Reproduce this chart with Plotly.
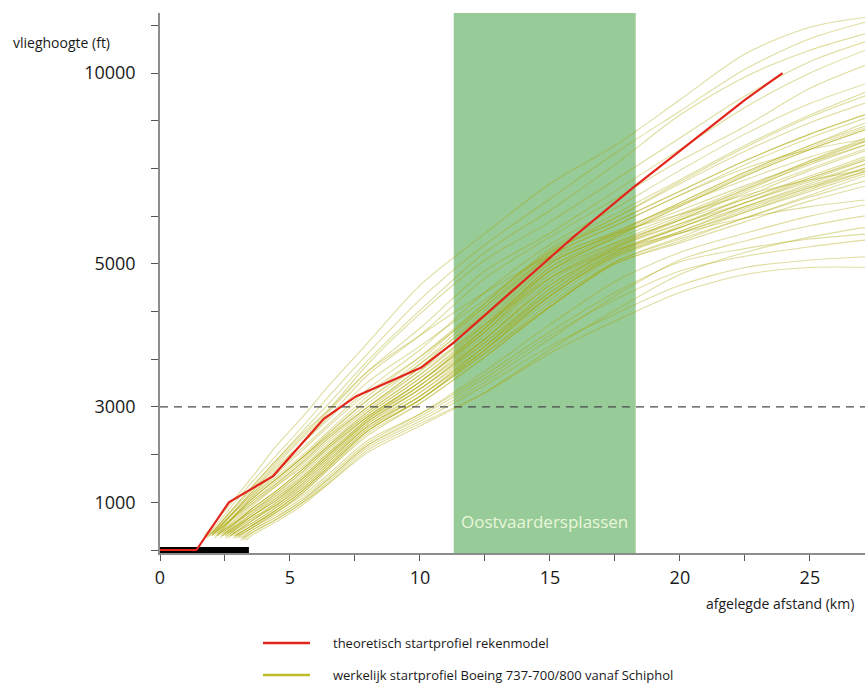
import numpy as np
import plotly.graph_objects as go

# ---------------- data ----------------
# theoretical take-off profile (red)
RED_KM = [0, 1.4, 2.65, 4.35, 6.3, 7.55, 10.05, 11.3, 15.9, 18.2, 22.5, 23.95]
RED_FT = [0, 0, 1000, 1550, 2750, 3150, 3550, 3900, 5700, 7000, 9300, 10000]

# runway (black bar on the x axis)
RUNWAY_KM = [0, 3.42]
RUNWAY_FT = [0, 0]

# area of the Oostvaardersplassen
BAND_KM = [11.3, 18.3]
BAND_LABEL = "Oostvaardersplassen"

# reference altitude
REF_FT = 3000

# measured Boeing 737-700/800 profiles (olive): start point + heights on a common km grid
GRID_KM = [3.5, 4.5, 5.5, 6.5, 8, 10, 12.5, 15, 17.5, 20, 22.5, 25, 27.5]
START_KM = [1.7, 1.8, 1.9, 1.8, 2.0, 2.0,
            2.1, 2.2, 2.2, 2.3, 2.3, 2.4, 2.4, 2.5, 2.5, 2.6,
            2.6, 2.7, 2.7, 2.8, 2.8, 2.9, 2.9, 3.0, 2.4, 2.2,
            2.5, 2.6, 2.3, 2.7, 2.0, 2.1, 2.8, 2.5, 2.9, 2.4,
            3.1, 3.2, 3.3, 3.0, 3.2, 3.1, 2.9,
            1.9, 2.0, 2.1, 2.2,
            2.0, 2.1, 2.2]
START_FT = [300, 280, 300, 250, 300, 350,
            350, 300, 400, 300, 350, 300, 400, 300, 350, 300,
            250, 300, 350, 300, 250, 300, 250, 300, 350, 350,
            300, 350, 250, 300, 350, 300, 350, 250, 300, 300,
            250, 200, 200, 250, 250, 200, 300,
            300, 300, 250, 300,
            300, 350, 300]
PROFILE_FT = [
    [1500, 2200, 2800, 3300, 3900, 4700, 5800, 7100, 8100, 9300, 10500, 11200, 11500],
    [1400, 2000, 2600, 3150, 3750, 4500, 5500, 6700, 7900, 9000, 10100, 10900, 11400],
    [1300, 1900, 2500, 3050, 3650, 4350, 5300, 6400, 7600, 8900, 9900, 10600, 11100],
    [1250, 1850, 2400, 2950, 3600, 4300, 5100, 6100, 7200, 8300, 9400, 10300, 10900],
    [1200, 1800, 2350, 2900, 3500, 4100, 4900, 5800, 6900, 8000, 9100, 10000, 10700],
    [1150, 1700, 2250, 2800, 3450, 4000, 4800, 5700, 6700, 7700, 8600, 9600, 10300],
    [1000, 1450, 1900, 2400, 3050, 3600, 4400, 5300, 6100, 6900, 7700, 8400, 9000],
    [900, 1350, 1800, 2300, 2950, 3500, 4300, 5200, 6000, 6800, 7600, 8300, 8900],
    [950, 1350, 1750, 2250, 2900, 3450, 4200, 5000, 5800, 6600, 7400, 8100, 8700],
    [850, 1250, 1700, 2200, 2850, 3400, 4100, 4900, 5700, 6500, 7300, 8000, 8600],
    [800, 1200, 1650, 2150, 2800, 3350, 4100, 4950, 5650, 6300, 7000, 7700, 8300],
    [750, 1150, 1600, 2100, 2800, 3350, 4050, 4850, 5550, 6250, 6950, 7600, 8200],
    [800, 1150, 1550, 2050, 2750, 3300, 4000, 4800, 5500, 6150, 6850, 7500, 8100],
    [700, 1100, 1550, 2050, 2750, 3300, 3950, 4700, 5400, 6050, 6700, 7300, 7900],
    [700, 1050, 1500, 2000, 2700, 3250, 3950, 4750, 5450, 6200, 6950, 7700, 8400],
    [650, 1000, 1450, 1950, 2650, 3250, 3900, 4650, 5300, 5950, 6600, 7200, 7800],
    [600, 1000, 1400, 1900, 2650, 3200, 3900, 4600, 5300, 6000, 6750, 7450, 8050],
    [600, 950, 1400, 1900, 2600, 3200, 3850, 4600, 5250, 5850, 6450, 7000, 7500],
    [650, 950, 1350, 1850, 2600, 3150, 3850, 4550, 5200, 5850, 6500, 7100, 7700],
    [550, 900, 1300, 1800, 2550, 3150, 3800, 4500, 5150, 5800, 6400, 7000, 7600],
    [500, 850, 1250, 1750, 2500, 3100, 3800, 4550, 5250, 5950, 6600, 7250, 7850],
    [500, 850, 1250, 1750, 2500, 3100, 3750, 4450, 5050, 5650, 6200, 6750, 7250],
    [450, 800, 1200, 1700, 2450, 3050, 3700, 4400, 5050, 5700, 6350, 6950, 7500],
    [450, 800, 1200, 1700, 2400, 3050, 3700, 4400, 5000, 5550, 6100, 6650, 7100],
    [850, 1250, 1700, 2200, 2850, 3400, 4150, 5000, 5800, 6600, 7400, 8100, 8800],
    [1000, 1400, 1850, 2350, 3000, 3550, 4250, 5050, 5750, 6400, 7050, 7650, 8200],
    [750, 1100, 1500, 2000, 2700, 3250, 3950, 4700, 5350, 5950, 6500, 7050, 7600],
    [700, 1050, 1450, 1950, 2700, 3300, 4050, 4900, 5700, 6500, 7300, 8000, 8600],
    [850, 1250, 1700, 2200, 2900, 3450, 4150, 4900, 5550, 6150, 6700, 7250, 7800],
    [600, 950, 1350, 1850, 2600, 3150, 3850, 4650, 5400, 6150, 6900, 7650, 8300],
    [1100, 1550, 2000, 2500, 3150, 3700, 4450, 5350, 6200, 7100, 7950, 8700, 9300],
    [1050, 1500, 1950, 2450, 3100, 3600, 4300, 5100, 5850, 6550, 7200, 7800, 8300],
    [550, 900, 1300, 1800, 2550, 3100, 3750, 4400, 5000, 5600, 6200, 6800, 7400],
    [700, 1050, 1500, 2000, 2750, 3350, 4100, 4950, 5750, 6550, 7350, 8050, 8650],
    [500, 850, 1250, 1750, 2500, 3100, 3800, 4550, 5200, 5800, 6350, 6900, 7450],
    [800, 1200, 1650, 2150, 2800, 3350, 4050, 4800, 5450, 6050, 6600, 7150, 7700],
    [400, 700, 1050, 1500, 2200, 2800, 3400, 4000, 4500, 4900, 5200, 5450, 5650],
    [350, 650, 1000, 1450, 2150, 2700, 3300, 3850, 4300, 4700, 4950, 5100, 5200],
    [300, 600, 950, 1400, 2100, 2650, 3200, 3750, 4200, 4600, 4850, 4950, 4950],
    [450, 750, 1100, 1550, 2250, 2850, 3500, 4150, 4750, 5300, 5800, 6250, 6600],
    [350, 650, 1000, 1400, 2050, 2600, 3200, 3800, 4350, 4850, 5300, 5700, 6000],
    [400, 700, 1050, 1500, 2200, 2750, 3350, 3950, 4550, 5100, 5600, 6000, 6300],
    [500, 800, 1150, 1600, 2300, 2850, 3450, 4050, 4600, 5050, 5400, 5650, 5800],
    [1300, 1900, 2450, 2950, 3500, 4000, 4600, 5200, 5800, 6300, 6800, 7200, 7500],
    [1200, 1750, 2250, 2750, 3350, 3850, 4500, 5300, 6100, 6900, 7700, 8400, 9000],
    [1100, 1600, 2100, 2600, 3200, 3700, 4400, 5200, 6000, 6800, 7500, 8000, 8300],
    [1050, 1500, 1950, 2400, 3000, 3500, 4150, 4800, 5350, 5800, 6200, 6500, 6700],
    [1150, 1650, 2150, 2650, 3250, 3800, 4600, 5500, 6450, 7450, 8400, 9200, 9800],
    [1050, 1500, 1950, 2450, 3100, 3650, 4450, 5400, 6300, 7200, 8100, 8900, 9600],
    [950, 1400, 1850, 2350, 3000, 3550, 4350, 5250, 6200, 7150, 8050, 8850, 9500],
]

Y_LABEL_FT = [1000, 3000, 5000, 10000]
X_TICKS_KM = [0, 5, 10, 15, 20, 25]

NAME_RED = "theoretisch startprofiel rekenmodel"
NAME_OLIVE = "werkelijk startprofiel Boeing 737-700/800 vanaf Schiphol"

# The original chart uses a piecewise vertical scale: equal tick steps for
# 0-1000-2000-3000, then 3000->5000 over three steps, 5000->10000 over four.
FT_BREAKS = [0, 1000, 3000, 5000, 10000, 12500]
AXIS_BREAKS = [0, 1, 3, 6, 10, 12]


def to_axis(ft):
    return np.interp(np.asarray(ft, dtype=float), FT_BREAKS, AXIS_BREAKS)


# ---------------- figure ----------------
FONT = "Open Sans, Noto Sans, sans-serif"
RED = "#e3261c"
OLIVE_LINE = "rgba(172,166,0,0.38)"
OLIVE_LEGEND = "#bdbd2c"
AXIS_GREY = "#8c8c8c"

fig = go.Figure()

for sk, sf, prof in zip(START_KM, START_FT, PROFILE_FT):
    xs = [sk] + GRID_KM
    ys = to_axis([sf] + prof)
    fig.add_trace(go.Scatter(
        x=xs, y=ys, mode="lines", name=NAME_OLIVE, legendgroup="olive",
        showlegend=False, hoverinfo="skip",
        line=dict(color=OLIVE_LINE, width=1.1, shape="spline", smoothing=0.8),
    ))

fig.add_trace(go.Scatter(
    x=RUNWAY_KM, y=to_axis(RUNWAY_FT), mode="lines", showlegend=False,
    line=dict(color="#000000", width=6), hoverinfo="skip",
))

fig.add_trace(go.Scatter(
    x=RED_KM, y=to_axis(RED_FT), mode="lines", name=NAME_RED, showlegend=False,
    line=dict(color=RED, width=2.2),
))

X_MAX = 27.12
Y_MIN, Y_MAX = -0.063, 11.26

shapes = [
    dict(type="rect", xref="x", yref="paper", x0=BAND_KM[0], x1=BAND_KM[1],
         y0=0, y1=1, fillcolor="#97cb97", line=dict(width=0), layer="below"),
    dict(type="line", xref="paper", yref="y", x0=0, x1=1,
         y0=float(to_axis(REF_FT)), y1=float(to_axis(REF_FT)),
         line=dict(color="#4a4a4a", width=1.3, dash="8px,6px"), layer="above"),
    # manual legend swatches
    dict(type="line", xref="paper", yref="paper",
         x0=(263 - 160) / 705, x1=(310 - 160) / 705,
         y0=(553 - 643) / 540, y1=(553 - 643) / 540,
         line=dict(color=RED, width=2.5)),
    dict(type="line", xref="paper", yref="paper",
         x0=(263 - 160) / 705, x1=(310 - 160) / 705,
         y0=(553 - 675) / 540, y1=(553 - 675) / 540,
         line=dict(color=OLIVE_LEGEND, width=2.5)),
]

annotations = [
    dict(text="vlieghoogte (ft)", xref="paper", yref="paper",
         x=(11 - 160) / 705, y=(553 - 42) / 540, xanchor="left", yanchor="middle",
         showarrow=False, font=dict(size=14, color="#1a1a1a", family=FONT)),
    dict(text="afgelegde afstand (km)", xref="paper", yref="paper",
         x=(856 - 160) / 705, y=(553 - 603) / 540, xanchor="right", yanchor="middle",
         showarrow=False, font=dict(size=14, color="#1a1a1a", family=FONT)),
    dict(text=BAND_LABEL, xref="x", yref="y",
         x=(BAND_KM[0] + BAND_KM[1]) / 2, y=0.6, xanchor="center", yanchor="middle",
         showarrow=False, font=dict(size=17, color="#eaf6dc", family=FONT)),
    dict(text=NAME_RED, xref="paper", yref="paper",
         x=(331 - 160) / 705, y=(553 - 643) / 540, xanchor="left", yanchor="middle",
         showarrow=False, font=dict(size=13, color="#1a1a1a", family=FONT)),
    dict(text=NAME_OLIVE, xref="paper", yref="paper",
         x=(331 - 160) / 705, y=(553 - 675) / 540, xanchor="left", yanchor="middle",
         showarrow=False, font=dict(size=13, color="#1a1a1a", family=FONT)),
]

fig.update_layout(
    width=865, height=684,
    margin=dict(l=160, r=0, t=13, b=131, pad=0),
    paper_bgcolor="white", plot_bgcolor="white",
    showlegend=False,
    shapes=shapes, annotations=annotations,
    font=dict(family=FONT, color="#1a1a1a"),
)

fig.update_xaxes(
    range=[0, X_MAX], showgrid=False, zeroline=False,
    showline=True, linecolor=AXIS_GREY, linewidth=1.5,
    tickmode="array", tickvals=X_TICKS_KM, ticktext=[str(v) for v in X_TICKS_KM],
    ticks="outside", ticklen=6, tickcolor="#555", tickwidth=1.2,
    minor=dict(dtick=2.5, tick0=0, ticks="outside", ticklen=6, tickcolor="#555", tickwidth=1.2),
    tickfont=dict(size=18, family=FONT, color="#1a1a1a"),
    ticklabelstandoff=2,
)

fig.update_yaxes(
    range=[Y_MIN, Y_MAX], showgrid=False, zeroline=False,
    showline=True, linecolor=AXIS_GREY, linewidth=1.5,
    tickmode="array", tickvals=[float(v) for v in to_axis(Y_LABEL_FT)],
    ticktext=[str(v) for v in Y_LABEL_FT],
    ticks="outside", ticklen=7, tickcolor="#555", tickwidth=1.2,
    minor=dict(dtick=1, tick0=0, ticks="outside", ticklen=7, tickcolor="#555", tickwidth=1.2),
    tickfont=dict(size=18, family=FONT, color="#1a1a1a"),
    ticklabelstandoff=12,
)

fig.write_html(
    "out.html",
    config={"displayModeBar": False},
    post_script="document.body.style.margin='0';document.body.style.padding='0';",
)
